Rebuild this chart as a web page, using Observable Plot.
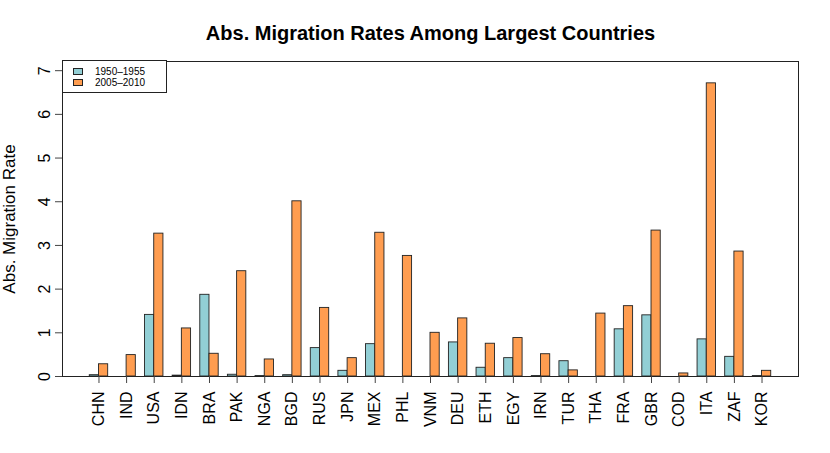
<!DOCTYPE html>
<html>
<head>
<meta charset="utf-8">
<script src="https://cdn.jsdelivr.net/npm/d3@7"></script>
<script src="https://cdn.jsdelivr.net/npm/@observablehq/plot@0.6"></script>
<style>
  html, body { margin: 0; padding: 0; background: #fff; }
  #wrap { position: relative; width: 830px; height: 453px; font-family: "Liberation Sans", Arial, Helvetica, sans-serif; }
  #legend { position: absolute; left: 62px; top: 60px; width: 105px; height: 33px; border: 1px solid #222; box-sizing: border-box; background: #fff; font-size: 10px; }
  .row { position: absolute; left: 10px; height: 11px; display: flex; align-items: center; }
  .sw { width: 8px; height: 5px; border: 1px solid #222; margin-right: 12px; }
</style>
</head>
<body>
<div id="wrap"></div>
<script>
const countries = ["CHN","IND","USA","IDN","BRA","PAK","NGA","BGD","RUS","JPN","MEX","PHL","VNM","DEU","ETH","EGY","IRN","TUR","THA","FRA","GBR","COD","ITA","ZAF","KOR"];
const rate1950 = [0.03,0.00,1.41,0.02,1.87,0.04,0.01,0.03,0.65,0.13,0.74,0.00,0.00,0.78,0.20,0.42,0.01,0.35,0.00,1.08,1.40,0.00,0.85,0.45,0.01];
const rate2005 = [0.28,0.49,3.27,1.10,0.52,2.41,0.39,4.01,1.57,0.42,3.29,2.76,1.00,1.33,0.75,0.88,0.51,0.14,1.44,1.61,3.34,0.07,6.71,2.86,0.13];
const seriesNames = ["1950\u20131955", "2005\u20132010"];
const colors = ["#92cfd5", "#ff9d50"];
const yTicks = [0,1,2,3,4,5,6,7];
const title = "Abs. Migration Rates Among Largest Countries";
const yLabel = "Abs. Migration Rate";

const W = 830, H = 453, mL = 62, mR = 32, mT = 61, mB = 77;
const padIn = 1/3, padOut = 0.987;
const step = (W - mL - mR) / (countries.length - padIn + 2 * padOut);
const half = step * (1 - padIn) / 2;

const d1 = countries.map((c, i) => ({country: c, value: rate1950[i]}));
const d2 = countries.map((c, i) => ({country: c, value: rate2005[i]}));

const chart = Plot.plot({
  width: W, height: H,
  marginLeft: mL, marginRight: mR, marginTop: mT, marginBottom: mB,
  style: {fontFamily: '"Liberation Sans", Arial, Helvetica, sans-serif', fontSize: "16px", color: "#000", background: "#fff"},
  x: {type: "band", domain: countries, paddingInner: padIn, paddingOuter: padOut, align: 0.5, round: false},
  y: {domain: [0, 7.21]},
  marks: [
    Plot.barY(d1, {x: "country", y: "value", fill: colors[0], stroke: "#222", strokeWidth: 0.9, insetRight: half}),
    Plot.barY(d2, {x: "country", y: "value", fill: colors[1], stroke: "#222", strokeWidth: 0.9, insetLeft: half}),
    Plot.frame({stroke: "#222", strokeWidth: 1}),
    Plot.axisX({tickRotate: -90, tickSize: 7, tickPadding: 8, fontSize: 16, stroke: "#444", label: null}),
    Plot.axisY({ticks: yTicks, tickSize: 7, tickPadding: 6, tickRotate: -90, fontSize: 16, stroke: "#444", label: null}),
    Plot.text([yLabel], {frameAnchor: "left", textAnchor: "middle", rotate: -90, dx: -53, fontSize: 17}),
    Plot.text([title], {frameAnchor: "top", dy: -36, fontSize: 20, fontWeight: "bold"})
  ]
});
const wrap = document.getElementById("wrap");
wrap.appendChild(chart);
const leg = document.createElement("div");
leg.id = "legend";
seriesNames.forEach((s, i) => {
  const r = document.createElement("div");
  r.className = "row";
  r.style.top = (5 + i * 11) + "px";
  const sw = document.createElement("span");
  sw.className = "sw";
  sw.style.background = colors[i];
  r.appendChild(sw);
  r.appendChild(document.createTextNode(s));
  leg.appendChild(r);
});
wrap.appendChild(leg);
</script>
</body>
</html>
